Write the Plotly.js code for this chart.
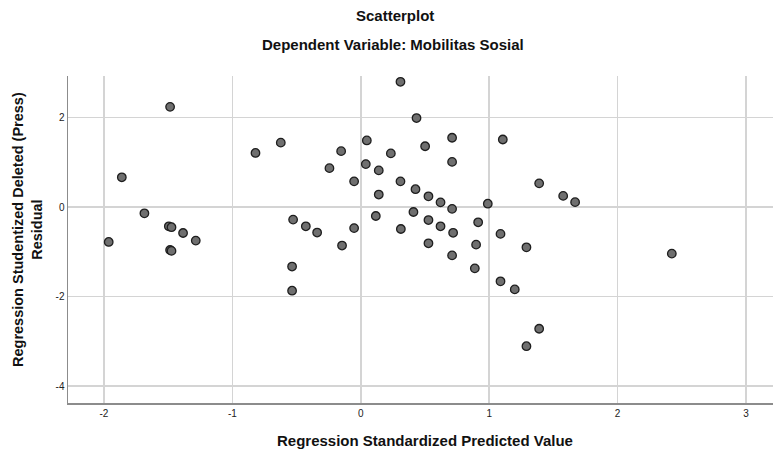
<!DOCTYPE html>
<html>
<head>
<meta charset="utf-8">
<script src="https://cdn.plot.ly/plotly-3.0.1.min.js"></script>
<style>html,body{margin:0;padding:0;background:#fff;}#chart{width:773px;height:452px;}</style>
</head>
<body>
<div id="chart"></div>
<script>
const predicted = [
  -1.485, -1.861, -0.820, -0.623, -1.685, -1.495, -1.474, -1.384, -1.285, -1.963,
  -0.527, -0.428, -0.340, -1.485, -1.474, -0.535, -0.535,
  0.309, 0.434, 0.047, 0.711, 1.106, -0.153, 0.501, 0.234, -0.244, 0.039,
  0.140, 0.711, -0.052, 0.309, 1.389, 0.140, 0.426, 0.527, 0.621, 0.711,
  0.989, 0.117, 0.410, 0.527, 0.621, 0.719, 0.914, 1.088, -0.052, 0.312,
  -0.146, 0.527, 0.898, 1.290,
  0.711, 0.888, 1.088, 1.199, 1.389, 1.290,
  1.576, 1.669, 2.422
];
const residual = [
  2.24, 0.665, 1.21, 1.44, -0.14, -0.43, -0.45, -0.58, -0.75, -0.78,
  -0.28, -0.43, -0.57, -0.96, -0.98, -1.33, -1.87,
  2.80, 1.99, 1.49, 1.55, 1.51, 1.25, 1.36, 1.20, 0.87, 0.96,
  0.82, 1.01, 0.575, 0.575, 0.53, 0.28, 0.40, 0.24, 0.105, -0.04,
  0.075, -0.20, -0.11, -0.29, -0.43, -0.575, -0.34, -0.60, -0.47, -0.49,
  -0.86, -0.81, -0.84, -0.90,
  -1.08, -1.37, -1.66, -1.84, -2.72, -3.11,
  0.25, 0.11, -1.04
];
const xTickVals = [-2, -1, 0, 1, 2, 3];
const xTickText = ["-2", "-1", "0", "1", "2", "3"];
const yTickVals = [-4, -2, 0, 2];
const yTickText = ["-4", "-2", "0", "2"];
const chartTitle = "Scatterplot";
const chartSubtitle = "Dependent Variable: Mobilitas Sosial";
const xTitle = "Regression Standardized Predicted Value";
const yTitle = "Regression Studentized Deleted (Press)<br>Residual";

const font = "Liberation Sans, Arial, sans-serif";
const W = 773, H = 452, M = {l: 68, r: 0, t: 76, b: 49};
const plotW = W - M.l - M.r, plotH = H - M.t - M.b;
const px = (x) => (x - M.l) / plotW;          // page x -> paper
const py = (y) => (H - M.b - y) / plotH;      // page y -> paper

const data = [{
  type: "scatter", mode: "markers",
  x: predicted, y: residual,
  marker: {size: 8.5, color: "#6f6f6f", line: {color: "#1e1e1e", width: 1.3}},
  hoverinfo: "x+y"
}];
const layout = {
  width: W, height: H,
  margin: M,
  paper_bgcolor: "#ffffff", plot_bgcolor: "#ffffff",
  showlegend: false,
  font: {family: font, color: "#222"},
  xaxis: {
    range: [-2.28, 3.21], tickmode: "array", tickvals: xTickVals, ticktext: xTickText,
    showgrid: true, gridcolor: "#d4d4d4", gridwidth: 1.5,
    zeroline: false, showline: true, linecolor: "#8c8c8c", linewidth: 1.5,
    ticks: "", tickfont: {size: 10, color: "#222"}
  },
  yaxis: {
    range: [-4.38, 2.93], tickmode: "array", tickvals: yTickVals, ticktext: yTickText,
    showgrid: true, gridcolor: "#d4d4d4", gridwidth: 1.5,
    zeroline: false, showline: true, linecolor: "#8c8c8c", linewidth: 1.5,
    ticks: "", tickfont: {size: 10, color: "#222"}
  },
  annotations: [
    {text: "<b>" + chartTitle + "</b>", xref: "paper", yref: "paper", x: px(395), y: py(15),
     xanchor: "center", yanchor: "middle", showarrow: false,
     font: {size: 15, color: "#111", family: font}},
    {text: "<b>" + chartSubtitle + "</b>", xref: "paper", yref: "paper", x: px(393), y: py(45),
     xanchor: "center", yanchor: "middle", showarrow: false,
     font: {size: 15, color: "#111", family: font}},
    {text: "<b>" + xTitle + "</b>", xref: "paper", yref: "paper", x: px(425), y: py(440),
     xanchor: "center", yanchor: "middle", showarrow: false,
     font: {size: 15, color: "#111", family: font}},
    {text: "<b>" + yTitle + "</b>", xref: "paper", yref: "paper", x: px(27), y: py(230),
     xanchor: "center", yanchor: "middle", showarrow: false, textangle: -90,
     font: {size: 14.5, color: "#111", family: font}}
  ]
};
Plotly.newPlot("chart", data, layout, {displayModeBar: false, staticPlot: true});
</script>
</body>
</html>
